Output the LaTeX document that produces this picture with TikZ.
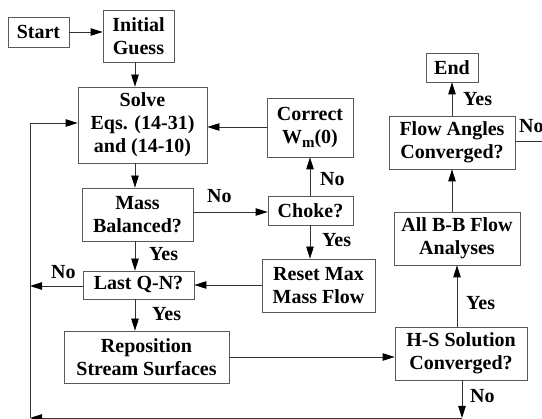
\documentclass[tikz,border=0pt]{standalone}
\usepackage{fontspec}
\setmainfont{Liberation Serif}
\usetikzlibrary{arrows.meta}
\begin{document}
\begin{tikzpicture}[x=1pt,y=-1pt,
  every node/.style={font=\fontsize{20}{23}\selectfont\bfseries},
  box/.style={draw=black!65,line width=0.8pt,inner sep=0pt,align=center},
  lab/.style={inner sep=0pt,anchor=base west},
  arr/.style={draw=black!80,line width=0.8pt,-{Triangle[length=12pt,width=7.5pt,color=black]}},
  ln/.style={draw=black!80,line width=0.8pt}]
\clip (0,0) rectangle (542,419);
\fill[white] (0,0) rectangle (542,419);
% column guides for the vertical connectors
\coordinate (colA) at (135,0);
\coordinate (colC) at (310,0);
\coordinate (colR) at (452,0);
\coordinate (colH) at (457,0);
\coordinate (colD) at (462,0);
% boxes
\node[box,minimum width=61,minimum height=30] (start) at (38.5,32) {Start};
\node[box,minimum width=71,minimum height=52] (init) at (138.5,36) {Initial\\Guess};
\node[box,minimum width=129,minimum height=76] (solve) at (142.5,125) {Solve\\Eqs. (14-31)\\and (14-10)};
\node[box,minimum width=86,minimum height=59] (corr) at (310,127.5) {Correct\\W\raisebox{-4pt}{\fontsize{15}{15}\selectfont m}(0)};
\node[box,minimum width=111,minimum height=53] (mass) at (137.5,214.5) {Mass\\Balanced?};
\node[box,minimum width=85,minimum height=29] (choke) at (310.5,210.5) {Choke?};
\node[box,minimum width=111,minimum height=28] (last) at (138.5,285) {Last Q-N?};
\node[box,minimum width=113,minimum height=53] (reset) at (318.5,285.5) {Reset Max\\Mass Flow};
\node[box,minimum width=165,minimum height=52] (repos) at (146.5,357) {Reposition\\Stream Surfaces};
\node[box,minimum width=132,minimum height=53] (hs) at (461,353.5) {H-S Solution\\Converged?};
\node[box,minimum width=126,minimum height=53] (allbb) at (457,238.5) {All B-B Flow\\Analyses};
\node[box,minimum width=126,minimum height=53] (flow) at (452,142.5) {Flow Angles\\Converged?};
\node[box,minimum width=52,minimum height=29] (end) at (452,67.5) {End};
% loop-back corners
\coordinate (bd) at (462,418);
\coordinate (bl) at (30,418);
\coordinate (lc) at (30,123);
\coordinate (fr) at (542,141);
% connectors
\draw[arr] (start.east |- 0,32) -- (init.west |- 0,32);
\draw[arr] (init.south -| colA) -- (solve.north -| colA);
\draw[arr] (solve.south -| colA) -- (mass.north -| colA);
\draw[arr] (mass.south -| colA) -- (last.north -| colA);
\draw[arr] (last.south -| colA) -- (repos.north -| colA);
\draw[arr] (corr.west |- 0,127) -- (solve.east |- 0,127);
\draw[arr] (mass.east |- 0,212) -- (choke.west |- 0,212);
\draw[arr] (choke.north -| colC) -- (corr.south -| colC);
\draw[arr] (choke.south -| colC) -- (reset.north -| colC);
\draw[arr] (reset.west |- 0,285) -- (last.east |- 0,285);
\draw[arr] (last.west |- 0,286) -- (bl |- 0,286);
\draw[arr] (repos.east |- 0,357) -- (hs.west |- 0,357);
\draw[arr] (hs.north -| colH) -- (allbb.south -| colH);
\draw[arr] (allbb.north -| colR) -- (flow.south -| colR);
\draw[arr] (flow.north -| colR) -- (end.south -| colR);
\draw[ln] (flow.east |- fr) -- (fr);
\draw[arr] (hs.south -| colD) -- (bd);
\draw[arr] (bd) -- (bl);
\draw[arr] (bl) -- (lc) -- (solve.west |- lc);
% branch labels
\node[lab] at (207,203) {No};
\node[lab] at (320,186) {No};
\node[lab] at (322,247) {Yes};
\node[lab] at (149,261) {Yes};
\node[lab] at (51,279) {No};
\node[lab] at (152,321) {Yes};
\node[lab] at (466,310) {Yes};
\node[lab] at (470,403) {No};
\node[lab] at (463,106) {Yes};
\node[lab] at (519,133) {No};
\end{tikzpicture}
\end{document}
